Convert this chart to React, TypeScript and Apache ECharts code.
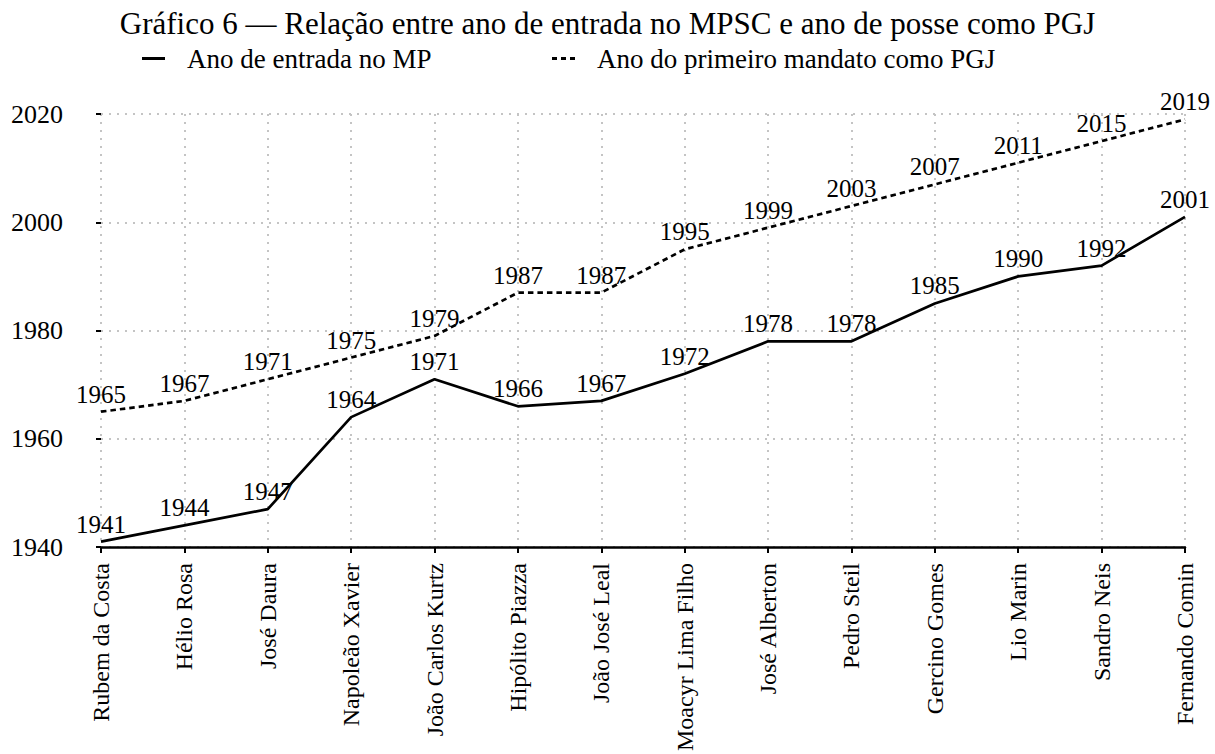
import React, { useEffect, useRef } from "react";
import * as echarts from "echarts";

const names = [
  "Rubem da Costa",
  "Hélio Rosa",
  "José Daura",
  "Napoleão Xavier",
  "João Carlos Kurtz",
  "Hipólito Piazza",
  "João José Leal",
  "Moacyr Lima Filho",
  "José Alberton",
  "Pedro Steil",
  "Gercino Gomes",
  "Lio Marin",
  "Sandro Neis",
  "Fernando Comin",
];
const anoEntrada = [1941, 1944, 1947, 1964, 1971, 1966, 1967, 1972, 1978, 1978, 1985, 1990, 1992, 2001];
const anoMandato = [1965, 1967, 1971, 1975, 1979, 1987, 1987, 1995, 1999, 2003, 2007, 2011, 2015, 2019];
const seriesNames = ["Ano de entrada no MP", "Ano do primeiro mandato como PGJ"];
const titleText = "Gráfico 6 — Relação entre ano de entrada no MPSC e ano de posse como PGJ";

const FONT = "Liberation Serif";

export default function App() {
  const ref = useRef<HTMLDivElement>(null);
  useEffect(() => {
    if (!ref.current) return;
    const chart = echarts.init(ref.current, null, { renderer: "svg" });
    const label = {
      show: true,
      position: "top" as const,
      distance: 5,
      fontFamily: FONT,
      fontSize: 25,
      color: "#000",
    };
    chart.setOption({
      animation: false,
      backgroundColor: "#fff",
      textStyle: { fontFamily: FONT },
      title: {
        text: titleText,
        left: "center",
        top: 3,
        textStyle: { fontFamily: FONT, fontSize: 31, fontWeight: "normal", color: "#000" },
      },
      legend: [
        {
          data: [{ name: seriesNames[0], icon: "path://M0,0 L23,0 L23,3 L0,3 Z" }],
          left: 137,
          top: 40,
          itemWidth: 23,
          itemHeight: 3,
          itemGap: 10,
          textStyle: { fontFamily: FONT, fontSize: 27, color: "#000", padding: [0, 0, 0, 17] },
        },
        {
          data: [{ name: seriesNames[1], icon: "path://M0,0 L5,0 L5,3 L0,3 Z M9,0 L14,0 L14,3 L9,3 Z M18,0 L23,0 L23,3 L18,3 Z" }],
          left: 547,
          top: 40,
          itemWidth: 23,
          itemHeight: 3,
          itemGap: 10,
          textStyle: { fontFamily: FONT, fontSize: 27, color: "#000", padding: [0, 0, 0, 17] },
        },
      ],
      grid: { left: 101, right: 30, top: 114, bottom: 202, containLabel: false },
      xAxis: {
        type: "category",
        data: names,
        boundaryGap: false,
        axisLine: { show: true, lineStyle: { color: "#000", width: 2.5 } },
        axisTick: { show: true, alignWithLabel: true, length: 6, lineStyle: { color: "#000", width: 2 } },
        axisLabel: {
          rotate: 90,
          margin: 16,
          interval: 0,
          fontFamily: FONT,
          fontSize: 24,
          color: "#000",
        },
        splitLine: { show: true, lineStyle: { color: "#c4c4c4", width: 2, type: [2, 6] } },
      },
      yAxis: {
        type: "value",
        min: 1940,
        max: 2020,
        interval: 20,
        axisLine: { show: false },
        axisTick: { show: true, length: 5, lineStyle: { color: "#000", width: 2 } },
        axisLabel: {
          margin: 38,
          fontFamily: FONT,
          fontSize: 26,
          color: "#000",
          formatter: (v: number) => String(v),
        },
        splitLine: { show: true, lineStyle: { color: "#c4c4c4", width: 2, type: [2, 6] } },
      },
      series: [
        {
          name: seriesNames[0],
          type: "line",
          data: anoEntrada,
          symbol: "circle",
          symbolSize: 0,
          showSymbol: true,
          lineStyle: { color: "#000", width: 2.7, type: "solid" },
          itemStyle: { color: "#000" },
          label,
        },
        {
          name: seriesNames[1],
          type: "line",
          data: anoMandato,
          symbol: "circle",
          symbolSize: 0,
          showSymbol: true,
          lineStyle: { color: "#000", width: 2.7, type: [5.5, 4] },
          itemStyle: { color: "#000" },
          label,
        },
      ],
    });
    return () => chart.dispose();
  }, []);
  return <div ref={ref} style={{ width: 1215, height: 754, position: "absolute", left: 0, top: 0 }} />;
}
